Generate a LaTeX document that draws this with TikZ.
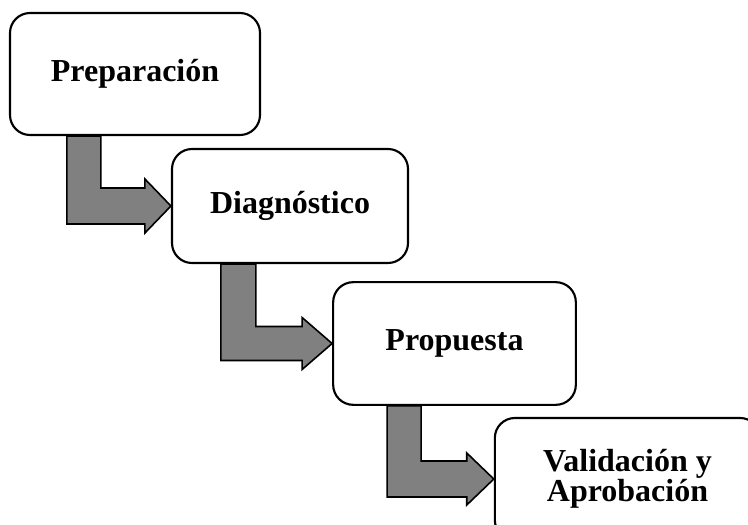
\documentclass[tikz,border=0pt]{standalone}
\usepackage{fontspec}
\setmainfont{Liberation Serif}
\usetikzlibrary{calc}

\tikzset{
  stepbox/.style={draw, line width=1.6pt, rounded corners=15pt, fill=white, align=center, inner sep=0.75pt,
    font=\fontsize{24}{21}\selectfont\bfseries},
  blockarrow/.style={draw, line width=1.2pt, fill={rgb, 255:red, 128; green, 128; blue, 128}, line join=miter}
}

\begin{document}
\begin{tikzpicture}[x=0.75pt,y=0.75pt,yscale=-1,xscale=1]
\useasboundingbox (0,0) rectangle (748,524);
\clip (0,0) rectangle (748,524);

%Rounded Rect [prep]
\node [stepbox, minimum width=187.5pt, minimum height=91.5pt] (prep) at (135,74) {Preparación};
%Rounded Rect [diag]
\node [stepbox, minimum width=177pt, minimum height=85.5pt] (diag) at (290,206) {Diagnóstico};
%Rounded Rect [prop]
\node [stepbox, minimum width=182pt, minimum height=92pt] (prop) at (454.5,343.5) {Propuesta};
%Rounded Rect [valid]
\node [stepbox, minimum width=199pt, minimum height=91.5pt] (valid) at (627.5,479) {Validación y\\Aprobación};

%Bent Arrow [prep -> diag]
\draw [blockarrow] ($(prep.south west)+(58,0)$) -- ($(prep.south west)+(92,0)$) |- ($(diag.west)+(-26,-18)$) -- ($(diag.west)+(-26,-27)$) -- (diag.west) -- ($(diag.west)+(-26,27)$) -- ($(diag.west)+(-26,18)$) -| ($(prep.south west)+(58,0)$) -- cycle ;
%Bent Arrow [diag -> prop]
\draw [blockarrow] ($(diag.south west)+(50,0)$) -- ($(diag.south west)+(85,0)$) |- ($(prop.west)+(-30,-17)$) -- ($(prop.west)+(-30,-26)$) -- (prop.west) -- ($(prop.west)+(-30,26)$) -- ($(prop.west)+(-30,17)$) -| ($(diag.south west)+(50,0)$) -- cycle ;
%Bent Arrow [prop -> valid]
\draw [blockarrow] ($(prop.south west)+(55,0)$) -- ($(prop.south west)+(89,0)$) |- ($(valid.west)+(-27,-18)$) -- ($(valid.west)+(-27,-26)$) -- (valid.west) -- ($(valid.west)+(-27,26)$) -- ($(valid.west)+(-27,18)$) -| ($(prop.south west)+(55,0)$) -- cycle ;

\end{tikzpicture}
\end{document}
